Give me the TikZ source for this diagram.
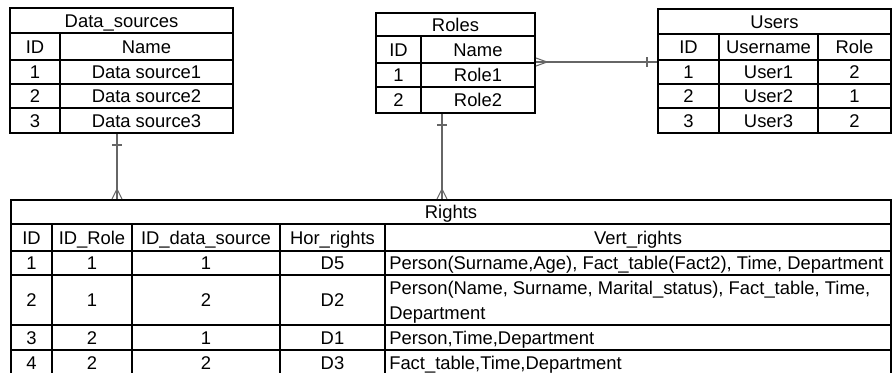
\documentclass[tikz,border=0pt]{standalone}
\usepackage{fontspec}
\setmainfont{Liberation Sans}
\usetikzlibrary{fit}
\tikzset{
	framestyle/.style={draw=black,line width=1.5pt,inner sep=0pt},
	gridstyle/.style={draw=black,line width=1.5pt},
	cellstyle/.style={inner sep=0pt,text height=11pt,text depth=1.1pt,font=\fontsize{13.8}{16}\selectfont},
	leftstyle/.style={cellstyle,anchor=west},
	linkstyle/.style={draw=black!60,line width=0.8pt}
}

\begin{document}
\begin{tikzpicture}[x=0.75pt,y=-0.75pt]
		\useasboundingbox (0,0) rectangle (893,372);
		% Data_sources
		\node[framestyle,fit={(10,8) (233,133)}] (datasources) {};
		\draw[gridstyle] (10,33) -- (233,33) (10,60) -- (233,60) (10,84) -- (233,84) (10,108) -- (233,108);
		\draw[gridstyle] (60,33) -- (60,133);
		\node[cellstyle] (ds-title) at (121.5,20.5) {Data\_sources};
		\node[cellstyle] (ds-hid) at (35,46.5) {ID};
		\node[cellstyle] (ds-hname) at (146.5,46.5) {Name};
		\foreach \i/\y in {1/72,2/96,3/120.5} {
			\node[cellstyle] (ds-id\i) at (35,\y) {\i};
			\node[cellstyle] (ds-name\i) at (146.5,\y) {Data source\i};
		}
		% Roles
		\node[framestyle,fit={(376,13) (535,113)}] (roles) {};
		\draw[gridstyle] (376,36) -- (535,36) (376,63) -- (535,63) (376,87) -- (535,87);
		\draw[gridstyle] (421,36) -- (421,113);
		\node[cellstyle] (rl-title) at (455.5,24.5) {Roles};
		\node[cellstyle] (rl-hid) at (398.5,49.5) {ID};
		\node[cellstyle] (rl-hname) at (478,49.5) {Name};
		\foreach \i/\y in {1/75,2/100} {
			\node[cellstyle] (rl-id\i) at (398.5,\y) {\i};
			\node[cellstyle] (rl-name\i) at (478,\y) {Role\i};
		}
		% Users
		\node[framestyle,fit={(658,9) (891,133)}] (users) {};
		\draw[gridstyle] (658,34) -- (891,34) (658,60) -- (891,60) (658,84) -- (891,84) (658,108) -- (891,108);
		\draw[gridstyle] (719,34) -- (719,133) (818,34) -- (818,133);
		\node[cellstyle] (us-title) at (774.5,21.5) {Users};
		\node[cellstyle] (us-hid) at (688.5,47) {ID};
		\node[cellstyle] (us-hname) at (768.5,47) {Username};
		\node[cellstyle] (us-hrole) at (854.5,47) {Role};
		\foreach \i/\r/\y in {1/2/72,2/1/96,3/2/120.5} {
			\node[cellstyle] (us-id\i) at (688.5,\y) {\i};
			\node[cellstyle] (us-name\i) at (768.5,\y) {User\i};
			\node[cellstyle] (us-role\i) at (854.5,\y) {\r};
		}
		% Rights
		\node[framestyle,fit={(11,200) (891,375)}] (rights) {};
		\foreach \y in {224,251,275,325,350}
			\draw[gridstyle] (11,\y) -- (891,\y);
		\foreach \x in {52,132,280,385}
			\draw[gridstyle] (\x,224) -- (\x,375);
		\node[cellstyle] (rt-title) at (451,212) {Rights};
		\node[cellstyle] (rt-hid) at (31.5,237.5) {ID};
		\node[cellstyle] (rt-hrole) at (92,237.5) {ID\_Role};
		\node[cellstyle] (rt-hsrc) at (206,237.5) {ID\_data\_source};
		\node[cellstyle] (rt-hhor) at (332.5,237.5) {Hor\_rights};
		\node[cellstyle] (rt-hvert) at (638,237.5) {Vert\_rights};
		\foreach \i/\r/\s/\h/\y in {1/1/1/D5/263,2/1/2/D2/300,3/2/1/D1/337.5,4/2/2/D3/362.5} {
			\node[cellstyle] (rt-id\i) at (31.5,\y) {\i};
			\node[cellstyle] (rt-role\i) at (92,\y) {\r};
			\node[cellstyle] (rt-src\i) at (206,\y) {\s};
			\node[cellstyle] (rt-hor\i) at (332.5,\y) {\h};
		}
		\node[leftstyle] (rt-vert1) at (389,263) {Person(Surname,Age), Fact\_table(Fact2), Time, Department};
		\node[leftstyle] (rt-vert2a) at (389,287.5) {Person(Name, Surname, Marital\_status), Fact\_table, Time,};
		\node[leftstyle] (rt-vert2b) at (389,312.5) {Department};
		\node[leftstyle] (rt-vert3) at (389,337.5) {Person,Time,Department};
		\node[leftstyle] (rt-vert4) at (389,362.5) {Fact\_table,Time,Department};
		% links
		\draw[linkstyle] (datasources.south -| 117,0) coordinate (dslink) -- (rights.north -| 117,0) coordinate (rtdslink);
		\draw[linkstyle] (dslink) ++(-5,11) -- ++(10,0);
		\draw[linkstyle] (rtdslink) ++(0,-10) -- ++(-5,10) ++(5,-10) -- ++(5,10);
		\draw[linkstyle] (roles.south -| 442,0) coordinate (rllink) -- (rights.north -| 442,0) coordinate (rtrllink);
		\draw[linkstyle] (rllink) ++(-5,11) -- ++(10,0);
		\draw[linkstyle] (rtrllink) ++(0,-10) -- ++(-5,10) ++(5,-10) -- ++(5,10);
		\draw[linkstyle] (roles.east |- 0,62) coordinate (rluslink) -- (users.west |- 0,62) coordinate (uslink);
		\draw[linkstyle] (rluslink) ++(11,0) -- ++(-11,-4) ++(11,4) -- ++(-11,4);
		\draw[linkstyle] (uslink) ++(-10,-5) -- ++(0,10);
\end{tikzpicture}
\end{document}
